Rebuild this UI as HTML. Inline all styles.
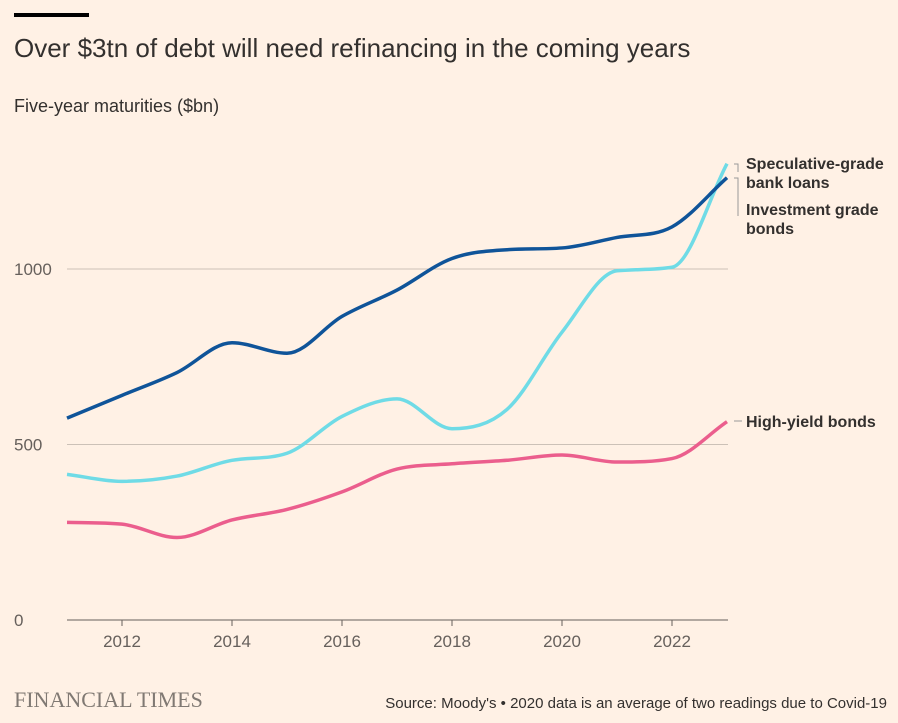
<!DOCTYPE html>
<html><head><meta charset="utf-8"><style>
body{margin:0;background:#fff1e5;font-family:"Liberation Sans",sans-serif;}
#wrap{position:relative;width:898px;height:723px;background:#fff1e5;overflow:hidden}
</style></head><body>
<div id="wrap">
<svg id="svg" width="898" height="723">
<rect x="14" y="13" width="75" height="4" fill="#000"/>
<text x="14" y="57" font-size="26" fill="#33302e">Over $3tn of debt will need refinancing in the coming years</text>
<text x="14" y="112" font-size="18" fill="#33302e">Five-year maturities ($bn)</text>
<g id="grid"></g><g id="series"></g><g id="labels"></g>
<text x="14" y="707" font-family="Liberation Serif" font-size="22" fill="#807973">FINANCIAL TIMES</text>
<text x="887" y="708" text-anchor="end" font-size="15" fill="#33302e">Source: Moody's • 2020 data is an average of two readings due to Covid-19</text>
</svg></div>
<script>
const years=[2011,2012,2013,2014,2015,2016,2017,2018,2019,2020,2021,2022,2023];
const investmentGrade=[575,640,705,790,760,865,940,1030,1055,1060,1090,1120,1260];
const speculativeGrade=[415,395,410,455,475,580,630,545,600,820,995,1005,1300];
const highYield=[278,273,235,285,315,365,430,445,455,470,450,460,565];
const yTicks=[0,500,1000];
const xTicks=[2012,2014,2016,2018,2020,2022];
const NS='http://www.w3.org/2000/svg';
const x=v=>67+(v-2011)*55;
const y=v=>620-v*0.351;
function mk(t,a,p){const e=document.createElementNS(NS,t);for(const k in a)e.setAttribute(k,a[k]);p.appendChild(e);return e;}
const grid=document.getElementById('grid');
yTicks.forEach(t=>{
 const l=mk('line',{x1:67,x2:728,y1:y(t),y2:y(t),stroke:t==0?'#66605c':'#ccc1b7','stroke-width':1},grid);
 
 
 const tx=mk('text',{x:14,y:y(t)+6,'font-size':17,fill:'#66605c'},grid);tx.textContent=t;
 
 
});
xTicks.forEach(t=>{
 const l=mk('line',{x1:x(t),x2:x(t),y1:620,y2:626,stroke:'#66605c'},grid);
 
 
 const tx=mk('text',{x:x(t),y:647,'font-size':17,fill:'#66605c','text-anchor':'middle'},grid);tx.textContent=t;
 
 
});
function path(vals){
 const p=vals.map((v,i)=>[x(years[i]),y(v)]);
 const n=p.length,dx=[],s=[],m=[];
 for(let i=0;i<n-1;i++){dx[i]=p[i+1][0]-p[i][0];s[i]=(p[i+1][1]-p[i][1])/dx[i];}
 m[0]=s[0];m[n-1]=s[n-2];
 for(let i=1;i<n-1;i++){m[i]=s[i-1]*s[i]<=0?0:(s[i-1]+s[i])/2;}
 for(let i=0;i<n-1;i++){if(s[i]==0){m[i]=m[i+1]=0;continue;}const a=m[i]/s[i],b=m[i+1]/s[i],h=a*a+b*b;if(h>9){const t=3/Math.sqrt(h);m[i]=t*a*s[i];m[i+1]=t*b*s[i];}}
 let d='M'+p[0][0]+','+p[0][1];
 for(let i=0;i<n-1;i++){
  const h=dx[i]/3;
  d+='C'+(p[i][0]+h)+','+(p[i][1]+m[i]*h)+' '+(p[i+1][0]-h)+','+(p[i+1][1]-m[i+1]*h)+' '+p[i+1][0]+','+p[i+1][1];
 }
 return d;
}
const sg=document.getElementById('series');
[[highYield,'#eb5e8d','high-yield-line'],[speculativeGrade,'#6fdbe6','speculative-grade-line'],[investmentGrade,'#0f5499','investment-grade-line']].forEach(s=>{
 const e=mk('path',{d:path(s[0]),fill:'none',stroke:s[1],'stroke-width':3.5},sg);
 
 
});
const lg=document.getElementById('labels');
function lab(lines,yy,name){
 const t=mk('text',{x:746,y:yy,'font-size':16,fill:'#33302e','font-weight':'bold'},lg);
 
 
 lines.forEach((s,i)=>{const ts=mk('tspan',{x:746,dy:i?19:0},t);ts.textContent=s;});
}
lab(['Speculative-grade','bank loans'],169,'label-speculative-grade');
lab(['Investment grade','bonds'],215,'label-investment-grade');
lab(['High-yield bonds'],427,'label-high-yield');
mk('path',{d:'M734,164 h4 v8 M734,178 h4 v38',fill:'none',stroke:'#999'},lg);
mk('line',{x1:734,x2:742,y1:421,y2:421,stroke:'#999'},lg);
</script></body></html>
